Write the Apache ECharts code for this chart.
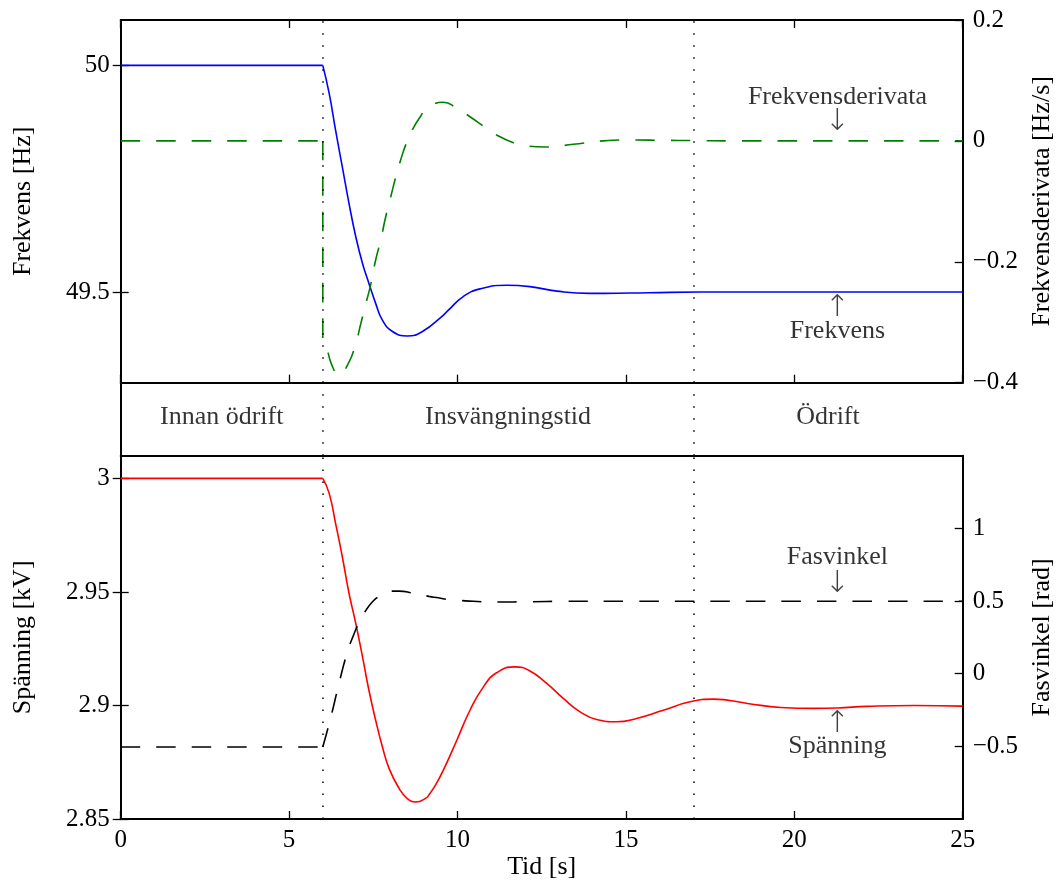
<!DOCTYPE html>
<html>
<head>
<meta charset="utf-8">
<script src="https://cdn.jsdelivr.net/npm/echarts@6/dist/echarts.min.js"></script>
<style>
html,body{margin:0;padding:0;background:#fff;}
#c{width:1058px;height:885px;}
</style>
</head>
<body>
<div id="c"></div>
<script>
// ---- data ----
const tFrekvens = [0, 6, 6.19, 6.38, 6.58, 6.78, 6.98, 7.18, 7.37, 7.57, 7.77, 8.07, 8.51, 8.96, 9.55, 9.73, 10.17, 10.67, 11.46, 12.15, 12.95, 13.93, 15.12, 16.31, 18.09, 25];
const frekvens = [50, 50, 49.938, 49.857, 49.776, 49.695, 49.622, 49.563, 49.519, 49.475, 49.438, 49.413, 49.403, 49.413, 49.447, 49.460, 49.490, 49.507, 49.515, 49.512, 49.502, 49.497, 49.4978, 49.4993, 49.5, 49.5];

const tDerivata = [0, 6, 6, 6.08, 6.27, 6.48, 6.76, 6.98, 7.13, 7.28, 7.43, 7.57, 7.72, 7.87, 8.02, 8.17, 8.31, 8.46, 8.66, 8.86, 9.11, 9.58, 9.98, 10.37, 10.82, 11.16, 11.66, 12.05, 12.6, 13.44, 14.33, 15.12, 16.11, 17.0, 18.09, 25];
const derivata = [0, 0, -0.329, -0.335, -0.371, -0.387, -0.368, -0.335, -0.302, -0.269, -0.236, -0.197, -0.164, -0.125, -0.092, -0.059, -0.032, -0.007, 0.018, 0.037, 0.054, 0.064, 0.054, 0.040, 0.0225, 0.0098, -0.003, -0.0084, -0.0101, -0.0056, 0, 0.0015, 0.001, 0.0005, 0, 0];

const tSpanning = [0, 6, 6.19, 6.38, 6.58, 6.78, 6.98, 7.18, 7.37, 7.57, 7.77, 7.97, 8.27, 8.51, 8.76, 9.06, 9.18, 9.35, 9.58, 9.98, 10.37, 10.77, 11.16, 11.71, 12.15, 12.65, 13.14, 13.64, 14.13, 14.73, 15.32, 16.11, 16.9, 17.6, 18.61, 19.6, 20.58, 21.28, 22.17, 23.55, 25];
const spanning = [3, 3, 2.9934, 2.9802, 2.9655, 2.9493, 2.9361, 2.9214, 2.9067, 2.8935, 2.8818, 2.8722, 2.8634, 2.8590, 2.8575, 2.8592, 2.8612, 2.8650, 2.8715, 2.8847, 2.8979, 2.9082, 2.9144, 2.9170, 2.9152, 2.9097, 2.9031, 2.8972, 2.8938, 2.8928, 2.8943, 2.8979, 2.9016, 2.9028, 2.9009, 2.8991, 2.8987, 2.8989, 2.8996, 2.9000, 2.8997];

const tFasvinkel = [0, 6, 6.24, 6.48, 6.73, 6.93, 7.08, 7.28, 7.47, 7.67, 7.97, 8.27, 8.66, 9.15, 9.43, 9.75, 10.07, 10.47, 11.16, 12.15, 13.14, 15, 25];
const fasvinkel = [-0.505, -0.505, -0.299, -0.069, 0.149, 0.275, 0.355, 0.436, 0.493, 0.532, 0.568, 0.568, 0.555, 0.532, 0.522, 0.509, 0.504, 0.498, 0.493, 0.495, 0.498, 0.498, 0.498];

const eventTimes = [6, 17];
const phaseNames = ['Innan ödrift', 'Insvängningstid', 'Ödrift'];
const phaseCenters = [3, 11.5, 21];

const timeTicks = [0, 5, 10, 15, 20, 25];
const freqTicks = [49.5, 50];
const derivTicks = [-0.4, -0.2, 0, 0.2];
const voltTicks = [2.85, 2.9, 2.95, 3];
const phaseTicks = [-0.5, 0, 0.5, 1];

// ---- helpers ----
const FONT = 'Liberation Serif';
const zip = (xs, ys) => xs.map((x, i) => [x, ys[i]]);
const minus = v => String(v).replace('-', '\u2212');
const lineCol = '#000';

function yAx(o) {
  return Object.assign({
    type: 'value',
    axisLine: { show: true, onZero: false, lineStyle: { color: lineCol, width: 2 } },
    axisTick: { show: true, inside: true, length: 8, lineStyle: { color: lineCol, width: 1.3 } },
    axisLabel: { show: false },
    splitLine: { show: false },
    nameTextStyle: { fontFamily: FONT, fontSize: 26, color: '#000' },
    nameLocation: 'middle',
    nameRotate: 90
  }, o);
}
function lbl(ticks, margin) {
  return { show: true, customValues: ticks, formatter: minus, fontFamily: FONT, fontSize: 25, color: '#000', margin: margin, showMinLabel: true, showMaxLabel: true };
}
function xAx(o) {
  return Object.assign({
    type: 'value', min: 0, max: 25,
    axisLine: { show: true, onZero: false, lineStyle: { color: lineCol, width: 2 } },
    axisTick: { show: true, inside: true, length: 8, customValues: timeTicks, lineStyle: { color: lineCol, width: 1.3 } },
    axisLabel: { show: false },
    splitLine: { show: false }
  }, o);
}
const dotted = {
  silent: true, symbol: 'none', label: { show: false },
  lineStyle: { color: '#000', width: 1.5, type: [1.5, 10.5] },
  data: eventTimes.map(t => ({ xAxis: t }))
};
const annLabel = { show: true, position: 'inside', fontFamily: FONT, fontSize: 26, color: '#000', formatter: p => p.name };
const arrowLabel = { fontFamily: 'DejaVu Sans', fontSize: 30, fontWeight: 'lighter', color: '#111' };
const hidden = { color: 'rgba(0,0,0,0)' };

// a curve: flat part before the event (first two points) + smoothed transient from the event on
function curve(name, xi, yi, ts, vs, style, extra) {
  const pre = { type: 'line', name: name, xAxisIndex: xi, yAxisIndex: yi, data: zip(ts.slice(0, 2), vs.slice(0, 2)),
    showSymbol: false, smooth: false, lineStyle: style, itemStyle: { color: style.color }, z: 3 };
  const post = Object.assign({ type: 'line', name: name, xAxisIndex: xi, yAxisIndex: yi, data: zip(ts.slice(1), vs.slice(1)),
    showSymbol: false, smooth: 0.5, lineStyle: style, itemStyle: { color: style.color }, z: 3 }, extra || {});
  return [pre, post];
}

const option = {
  animation: false,
  backgroundColor: '#fff',
  grid: [
    { left: 120.7, top: 20, width: 842, height: 362.7, outerBoundsMode: 'none' },
    { left: 120.7, top: 382.7, width: 842, height: 73, outerBoundsMode: 'none' },
    { left: 120.7, top: 455.7, width: 842, height: 363.3, outerBoundsMode: 'none' }
  ],
  xAxis: [
    xAx({ gridIndex: 0, position: 'bottom' }),
    xAx({ gridIndex: 0, position: 'top' }),
    xAx({ gridIndex: 1, position: 'bottom', show: false }),
    xAx({ gridIndex: 2, position: 'bottom',
      axisLabel: { show: true, customValues: timeTicks, fontFamily: FONT, fontSize: 25, color: '#000', margin: 9 },
      name: 'Tid [s]', nameLocation: 'middle', nameGap: 33,
      nameTextStyle: { fontFamily: FONT, fontSize: 26, color: '#000' } }),
    xAx({ gridIndex: 2, position: 'top', axisTick: { show: false } })
  ],
  yAxis: [
    yAx({ gridIndex: 0, position: 'left', min: 49.3, max: 50.1,
      axisTick: { show: true, inside: true, length: 8, customValues: freqTicks, lineStyle: { color: lineCol, width: 1.3 } },
      axisLabel: lbl(freqTicks, 11), name: 'Frekvens [Hz]', nameGap: 85 }),
    yAx({ gridIndex: 0, position: 'right', min: -0.4, max: 0.2,
      axisTick: { show: true, inside: true, length: 8, customValues: derivTicks, lineStyle: { color: lineCol, width: 1.3 } },
      axisLabel: lbl(derivTicks, 10), name: 'Frekvensderivata [Hz/s]', nameGap: 66 }),
    yAx({ gridIndex: 0, position: 'right', min: 49.3, max: 50.1, axisLine: { show: false },
      axisTick: { show: true, inside: true, length: 8, customValues: freqTicks, lineStyle: { color: lineCol, width: 1.3 } } }),
    yAx({ gridIndex: 1, position: 'left', min: 0, max: 1, axisTick: { show: false } }),
    yAx({ gridIndex: 2, position: 'left', min: 2.85, max: 3.01,
      axisTick: { show: true, inside: true, length: 8, customValues: voltTicks, lineStyle: { color: lineCol, width: 1.3 } },
      axisLabel: lbl(voltTicks, 11), name: 'Spänning [kV]', nameGap: 85 }),
    yAx({ gridIndex: 2, position: 'right', min: -1, max: 1.5,
      axisTick: { show: true, inside: true, length: 8, customValues: phaseTicks, lineStyle: { color: lineCol, width: 1.3 } },
      axisLabel: lbl(phaseTicks, 10), name: 'Fasvinkel [rad]', nameGap: 66 }),
    yAx({ gridIndex: 2, position: 'right', min: 2.85, max: 3.01, axisLine: { show: false },
      axisTick: { show: true, inside: true, length: 8, customValues: voltTicks, lineStyle: { color: lineCol, width: 1.3 } } })
  ],
  series: [
    ...curve('Frekvens', 0, 0, tFrekvens, frekvens, { color: '#0000ff', width: 1.6 }, { markLine: dotted }),
    ...curve('Frekvensderivata', 0, 1, tDerivata, derivata, { color: '#008000', width: 1.6, type: [19.5, 16] }),
    { type: 'scatter', xAxisIndex: 0, yAxisIndex: 1, symbolSize: 1, itemStyle: hidden, silent: true,
      label: annLabel, z: 5,
      data: [
        { name: 'Frekvensderivata', value: [21.28, 0.0726] },
        { name: '\u2193', value: [21.28, 0.031], label: arrowLabel },
        { name: '\u2191', value: [21.28, -0.276], label: arrowLabel },
        { name: 'Frekvens', value: [21.28, -0.3145] }
      ] },
    { type: 'scatter', xAxisIndex: 2, yAxisIndex: 3, symbolSize: 1, itemStyle: hidden, silent: true,
      label: annLabel, z: 5,
      data: phaseNames.map((n, i) => ({ name: n, value: [phaseCenters[i], 0.53] })),
      markLine: dotted },
    ...curve('Spänning', 3, 4, tSpanning, spanning, { color: '#ff0000', width: 1.6 }, { markLine: dotted }),
    ...curve('Fasvinkel', 3, 5, tFasvinkel, fasvinkel, { color: '#000000', width: 1.6, type: [19.5, 16] }),
    { type: 'scatter', xAxisIndex: 3, yAxisIndex: 5, symbolSize: 1, itemStyle: hidden, silent: true,
      label: annLabel, z: 5,
      data: [
        { name: 'Fasvinkel', value: [21.28, 0.80] },
        { name: '\u2193', value: [21.28, 0.615], label: arrowLabel },
        { name: '\u2191', value: [21.28, -0.35], label: arrowLabel },
        { name: 'Spänning', value: [21.28, -0.50] }
      ] }
  ]
};
const chart = echarts.init(document.getElementById('c'), null, { renderer: 'canvas' });
chart.setOption(option);
</script>
</body>
</html>
